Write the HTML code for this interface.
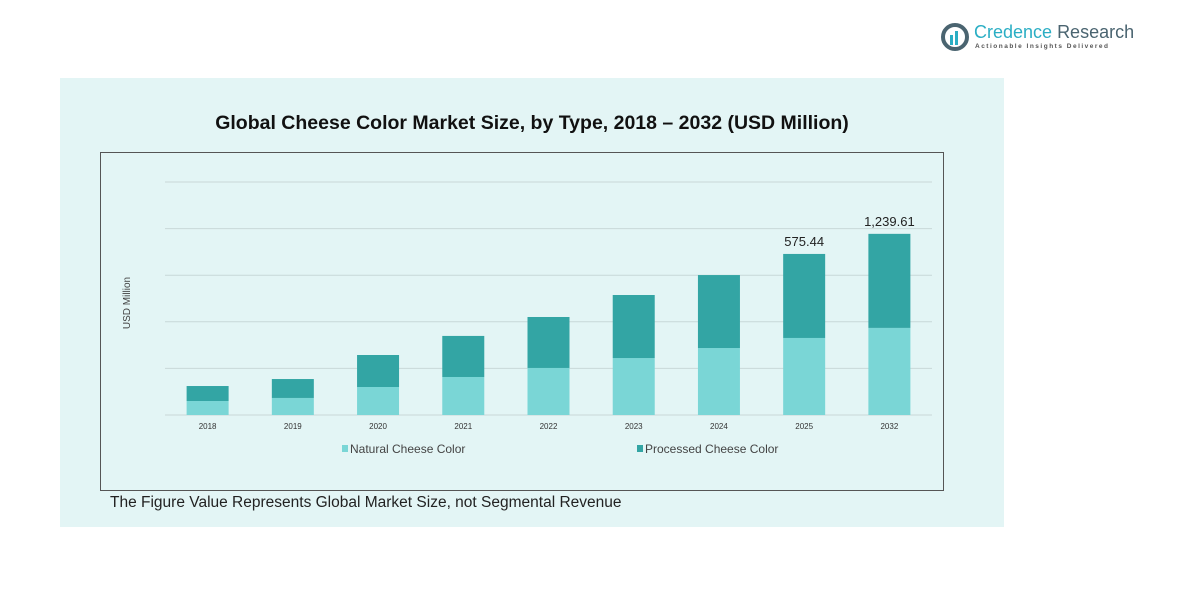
<!DOCTYPE html>
<html><head><meta charset="utf-8"><style>
body{margin:0;width:1181px;height:590px;background:#fff;font-family:"Liberation Sans",sans-serif;position:relative;overflow:hidden}
.abs{position:absolute}
</style></head><body>
<div class="abs" style="left:940px;top:20px;width:200px;height:36px">
<svg width="200" height="36"><circle cx="15" cy="17" r="12" fill="none" stroke="#4a6470" stroke-width="4"/><rect x="10" y="15" width="3" height="10" fill="#2aaec4"/><rect x="15" y="11" width="3" height="14" fill="#2aaec4"/></svg>
<div class="abs" style="left:34px;top:2px;font-size:18px;color:#2aaec4;white-space:nowrap">Credence <span style="color:#4a6470">Research</span></div>
<div class="abs" style="left:35px;top:23px;font-size:6.5px;letter-spacing:1.5px;color:#555;white-space:nowrap;font-weight:bold">Actionable Insights Delivered</div>
</div>
<div class="abs" style="left:60px;top:78px;width:944px;height:449px;background:#e3f5f5"></div>
<div class="abs" style="left:60px;top:112px;width:944px;text-align:center;font-size:19.5px;font-weight:bold;color:#111">Global Cheese Color Market Size, by Type, 2018 – 2032 (USD Million)</div>
<div class="abs" style="left:100px;top:152px;width:842px;height:337px;border:1px solid #555"></div>
<div class="abs" style="left:110px;top:494px;font-size:15.5px;color:#222">The Figure Value Represents Global Market Size, not Segmental Revenue</div>
<svg class="abs" style="left:0;top:0" width="1181" height="590" id="chart"></svg>
<script>
const categories=["2018","2019","2020","2021","2022","2023","2024","2025","2032"];
const natural=[96,117,192,261,323,391,460,529,598];
const processed=[103,130,220,282,350,433,501,577,646];
const labels=["","","","","","","","575.44","1,239.61"];
const gridTicks=[0,320,640,960,1280,1600];
const NS="http://www.w3.org/2000/svg";
const svg=document.getElementById('chart');
const x0=165,x1=932,y0=415,y1=182,maxV=1600;
const y=v=>y0-(v/maxV)*(y0-y1);
const step=(x1-x0)/categories.length;
const xc=i=>x0+step*(i+0.5);
function mk(t,a){const e=document.createElementNS(NS,t);for(const k in a)e.setAttribute(k,a[k]);svg.appendChild(e);return e;}
gridTicks.forEach((g,i)=>{const l=mk('line',{x1:x0,x2:x1,y1:y(g),y2:y(g),stroke:'#c8d8d8','stroke-width':1});

});
categories.forEach((c,i)=>{
const w=42,bx=xc(i)-w/2;
const r1=mk('rect',{x:bx,y:y(natural[i]),width:w,height:y0-y(natural[i]),fill:'#7ad6d6'});


const tot=natural[i]+processed[i];
const r2=mk('rect',{x:bx,y:y(tot),width:w,height:y(natural[i])-y(tot),fill:'#33a5a4'});


const t=mk('text',{x:xc(i),y:429,'text-anchor':'middle','font-size':8,fill:'#333'});t.textContent=c;


if(labels[i]){const v=mk('text',{x:xc(i),y:y(tot)-8,'text-anchor':'middle','font-size':13,fill:'#222'});v.textContent=labels[i];

}
});
const yt=mk('text',{x:130,y:303,'text-anchor':'middle','font-size':10,fill:'#444',transform:'rotate(-90 130 303)'});yt.textContent='USD Million';


[[342,'#7ad6d6','Natural Cheese Color'],[637,'#33a5a4','Processed Cheese Color']].forEach(([lx,col,txt])=>{
const s=mk('rect',{x:lx,y:445,width:6,height:7,fill:col});

const t=mk('text',{x:lx+8,y:453,'font-size':12,fill:'#444'});t.textContent=txt;

});
</script>
</body></html>
